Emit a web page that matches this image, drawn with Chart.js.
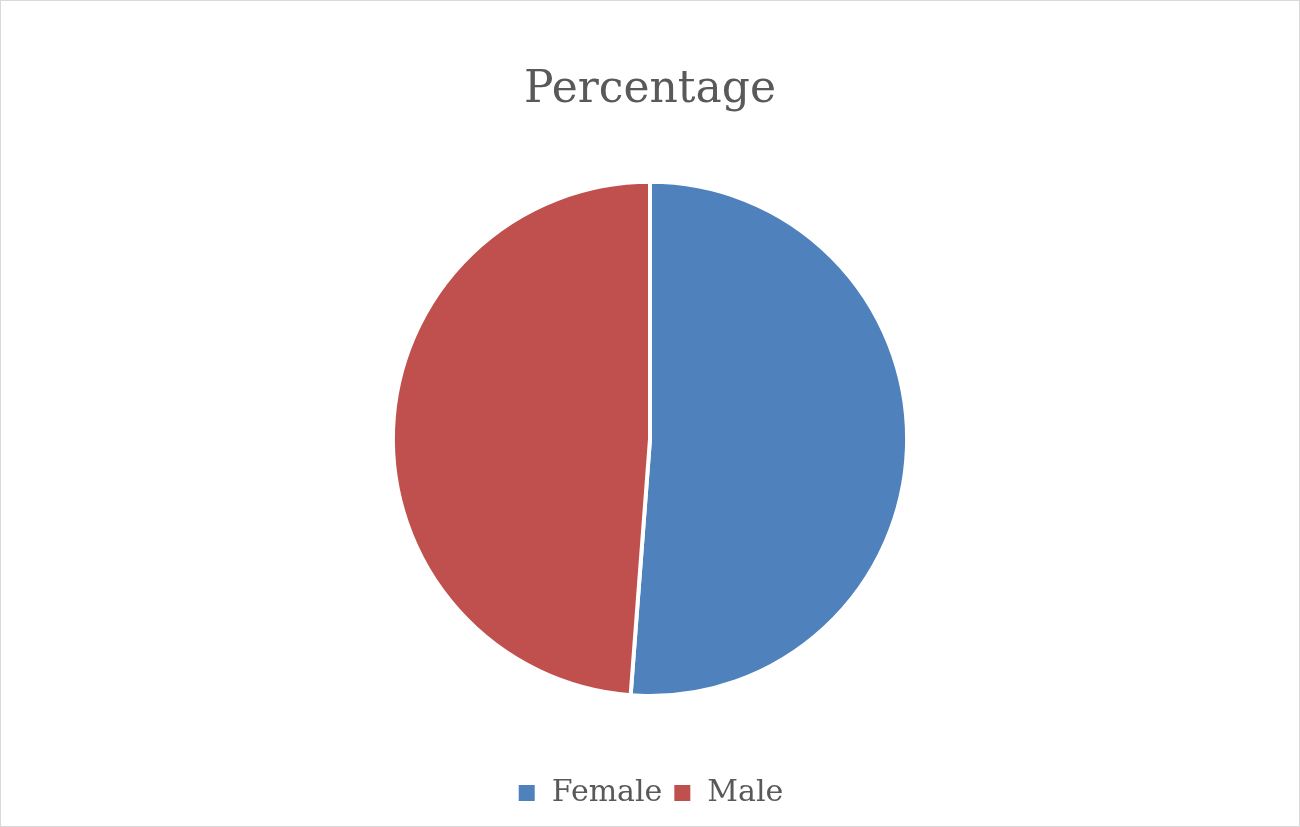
<!DOCTYPE html>
<html>
<head>
<script src="https://cdn.jsdelivr.net/npm/chart.js@4"></script>
<style>
  html, body { margin: 0; padding: 0; background: #fff; }
  #wrap { width: 1298px; height: 825px; border: 1px solid #d9d9d9; }
</style>
</head>
<body>
<div id="wrap"><canvas id="chart" width="1298" height="825"></canvas></div>
<script>
const labels = ['Female', 'Male'];
const percentages = [51.2, 48.8];
const colors = ['#4f81bd', '#c0504d'];

new Chart(document.querySelector('#chart').getContext('2d'), {
    type: 'pie',
    data: {
        labels: labels,
        datasets: [{
            data: percentages,
            backgroundColor: colors,
            borderColor: '#ffffff',
            borderWidth: 4
        }]
    },
    options: {
        responsive: false,
        animation: false,
        layout: { padding: { top: 63, bottom: 8 } },
        plugins: {
            title: {
                display: true,
                text: 'Percentage',
                color: '#595959',
                font: { family: 'DejaVu Serif', size: 44, weight: 'normal' },
                padding: { top: 0, bottom: 63 }
            },
            legend: {
                position: 'bottom',
                title: {
                    display: true,
                    text: ' ',
                    font: { size: 30 },
                    padding: { top: 0, bottom: 34 }
                },
                labels: {
                    color: '#595959',
                    font: { family: 'DejaVu Serif', size: 30 },
                    boxWidth: 20,
                    boxHeight: 20,
                    padding: 10
                }
            },
            tooltip: { enabled: false }
        }
    }
});
</script>
</body>
</html>
